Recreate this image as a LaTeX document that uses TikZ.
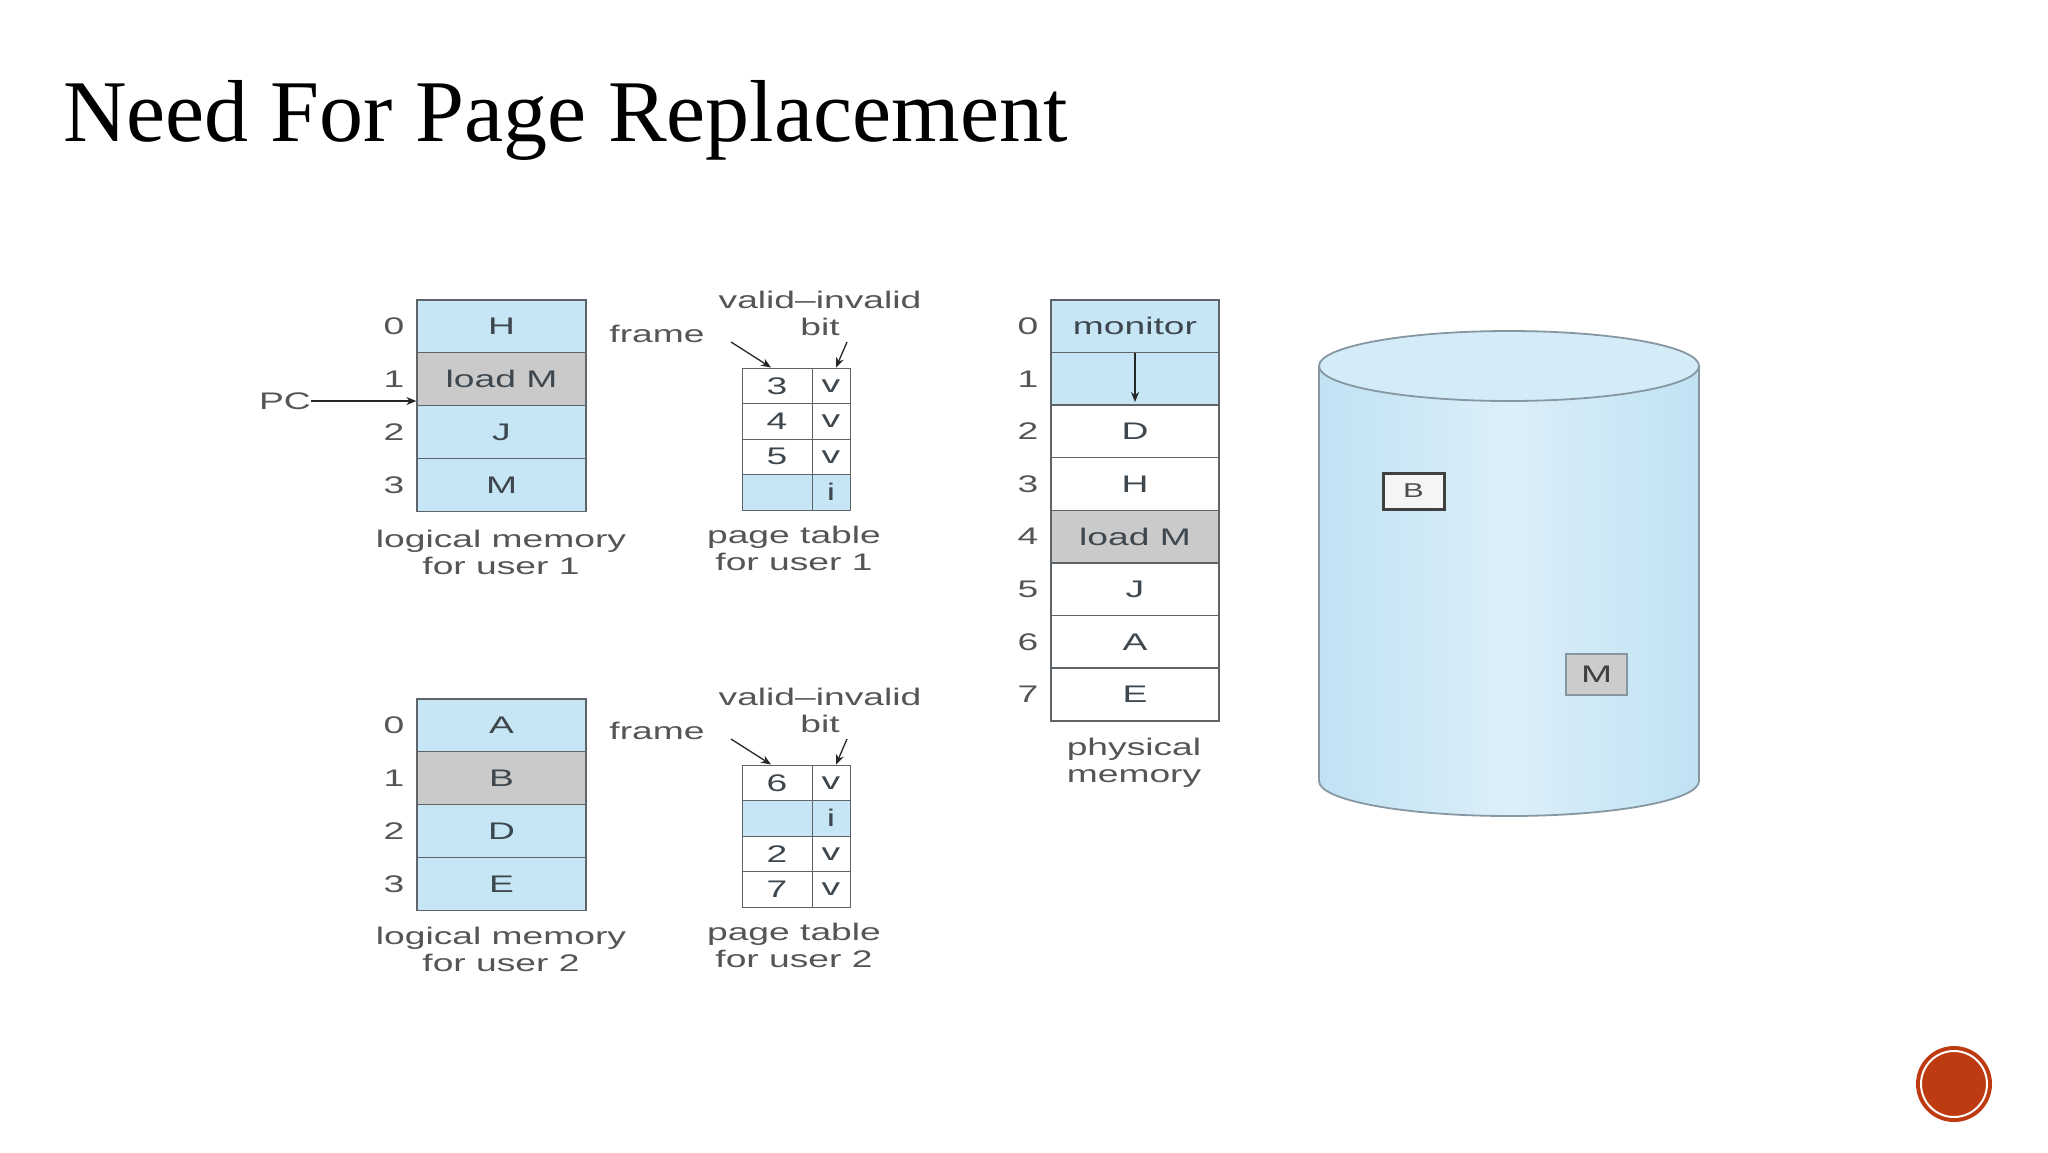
\documentclass[tikz,border=0pt]{standalone}
\usepackage{fontspec}
\setmainfont{Liberation Serif}
\newfontfamily\diagfont[FakeStretch=1.55]{Liberation Sans}
\usetikzlibrary{arrows.meta}
\definecolor{cellblue}{HTML}{C6E5F5}
\definecolor{cellgray}{HTML}{CACACA}
\definecolor{lineg}{HTML}{5E6468}
\definecolor{txt}{HTML}{3E474E}
\definecolor{lbl}{HTML}{555555}
\definecolor{diskedge}{HTML}{8797A2}
\definecolor{diskside}{HTML}{C0E2F3}
\definecolor{diskmid}{HTML}{DCEFF9}
\definecolor{disktop}{HTML}{D3ECF8}
\definecolor{redbtn}{HTML}{BE3A10}
\begin{document}
\begin{tikzpicture}[x=1pt,y=-1pt,
  dfont/.style={font=\diagfont\fontsize{24}{26}\selectfont},
  cell/.style={draw=lineg, line width=1.3pt, inner sep=0pt, dfont, text=txt,
     minimum width=169pt, minimum height=52.8pt},
  pcell/.style={draw=lineg, line width=1pt, inner sep=0pt, dfont, text=txt,
     minimum height=35.5pt},
  rlbl/.style={dfont, text=lbl, inner sep=0pt},
  captext/.style={dfont, text=lbl, align=center, inner sep=0pt},
  arr/.style={draw=black!85, line width=1.3pt, -{Stealth[length=10pt,width=8pt]}}
]
\useasboundingbox (0,0) rectangle (2048,1152);
\fill[white] (0,0) rectangle (2048,1152);

% title
\node[anchor=base west, inner sep=0pt, font=\fontsize{88}{100}\selectfont] (title) at (63,141) {Need For Page Replacement};

% ---------- logical memory 1 ----------
\node[cell, fill=cellblue] (la0) at (501.5,326.4) {H};
\node[cell, fill=cellgray] (la1) at (501.5,379.2) {load M};
\node[cell, fill=cellblue] (la2) at (501.5,432.0) {J};
\node[cell, fill=cellblue] (la3) at (501.5,484.8) {M};
\foreach \i in {0,...,3} \node[rlbl] (lal\i) at (394,326.4+52.8*\i) {\i};
\node[captext] (lacap) at (501,552) {logical memory\\[1pt]for user 1};
\node[rlbl, text=lbl] (pc) at (285,401) {PC};
\draw[arr, line width=1.1pt] (pc.east) -- (la1.west |- pc.east);

% ---------- page table 1 ----------
\foreach \r/\f/\b [count=\k from 0] in {0/3/v,1/4/v,2/5/v} {
  \node[pcell, minimum width=70pt] (pa\k f) at (777,385.75+35.5*\r) {\f};
  \node[pcell, minimum width=38pt] (pa\k b) at (831,385.75+35.5*\r) {\b};
}
\node[pcell, minimum width=70pt, fill=cellblue] (pa3f) at (777,492.25) {};
\node[pcell, minimum width=38pt, fill=cellblue] (pa3b) at (831,492.25) {i};
\node[rlbl] (fra) at (657,334) {frame};
\node[captext] (via) at (820,313) {valid–invalid\\[1pt]bit};
\coordinate (fas) at (731,342);
\coordinate (bas) at (847,342);
\draw[arr] (fas) -- ([xshift=-6pt]pa0f.north);
\draw[arr] (bas) -- ([xshift=5pt]pa0b.north);
\node[captext] (pacap) at (794,548) {page table\\[1pt]for user 1};

% ---------- logical memory 2 ----------
\node[cell, fill=cellblue] (lb0) at (501.5,725.4) {A};
\node[cell, fill=cellgray] (lb1) at (501.5,778.2) {B};
\node[cell, fill=cellblue] (lb2) at (501.5,831.0) {D};
\node[cell, fill=cellblue] (lb3) at (501.5,883.8) {E};
\foreach \i in {0,...,3} \node[rlbl] (lbl\i) at (394,725.4+52.8*\i) {\i};
\node[captext] (lbcap) at (501,949) {logical memory\\[1pt]for user 2};

% ---------- page table 2 ----------
\node[pcell, minimum width=70pt] (pb0f) at (777,782.75) {6};
\node[pcell, minimum width=38pt] (pb0b) at (831,782.75) {v};
\node[pcell, minimum width=70pt, fill=cellblue] (pb1f) at (777,818.25) {};
\node[pcell, minimum width=38pt, fill=cellblue] (pb1b) at (831,818.25) {i};
\node[pcell, minimum width=70pt] (pb2f) at (777,853.75) {2};
\node[pcell, minimum width=38pt] (pb2b) at (831,853.75) {v};
\node[pcell, minimum width=70pt] (pb3f) at (777,889.25) {7};
\node[pcell, minimum width=38pt] (pb3b) at (831,889.25) {v};
\node[rlbl] (frb) at (657,731) {frame};
\node[captext] (vib) at (820,710) {valid–invalid\\[1pt]bit};
\coordinate (fbs) at (731,739);
\coordinate (bbs) at (847,739);
\draw[arr] (fbs) -- ([xshift=-6pt]pb0f.north);
\draw[arr] (bbs) -- ([xshift=5pt]pb0b.north);
\node[captext] (pbcap) at (794,945) {page table\\[1pt]for user 2};

% ---------- physical memory ----------
\foreach \t/\c [count=\k from 0] in {monitor/cellblue,{}/cellblue,D/white,H/white,load M/cellgray,J/white,A/white,E/white} {
  \node[cell, fill=\c, minimum width=168pt] (pm\k) at (1135,326.3+52.6*\k) {\t};
  \node[rlbl] (pml\k) at (1028,326.3+52.6*\k) {\k};
}
\draw[arr] ([yshift=-1pt]pm1.north) -- ([yshift=4pt]pm1.south);
\node[captext] (pmcap) at (1134,763) {physical\\[1pt]memory};

% ---------- disk ----------
\shade[left color=diskside, right color=diskside, middle color=diskmid]
  (1319,366) -- (1319,781) arc[start angle=180, end angle=0, x radius=190, y radius=35] -- (1699,366) -- cycle;
\draw[diskedge, line width=1.8pt]
  (1319,366) -- (1319,781) arc[start angle=180, end angle=0, x radius=190, y radius=35] -- (1699,366);
\draw[diskedge, line width=1.8pt, fill=disktop] (1509,366) ellipse[x radius=190, y radius=35];
\node[draw=black!75, line width=3pt, fill=white!92!gray, minimum width=61pt, minimum height=36pt,
  inner sep=0pt, font=\diagfont\fontsize{20}{22}\selectfont, text=black!70] (dkB) at (1413.5,491) {B};
\node[draw=diskedge, line width=2pt, fill=black!20, minimum width=61pt, minimum height=41pt,
  inner sep=0pt, font=\diagfont\fontsize{24}{26}\selectfont, text=black!75] (dkM) at (1596.5,674.5) {M};

% ---------- red button ----------
\node[circle, fill=redbtn, minimum size=76pt, inner sep=0pt] (btn) at (1954,1084) {};
\draw[white, line width=2pt] (btn.center) circle[radius=33];
\end{tikzpicture}
\end{document}
